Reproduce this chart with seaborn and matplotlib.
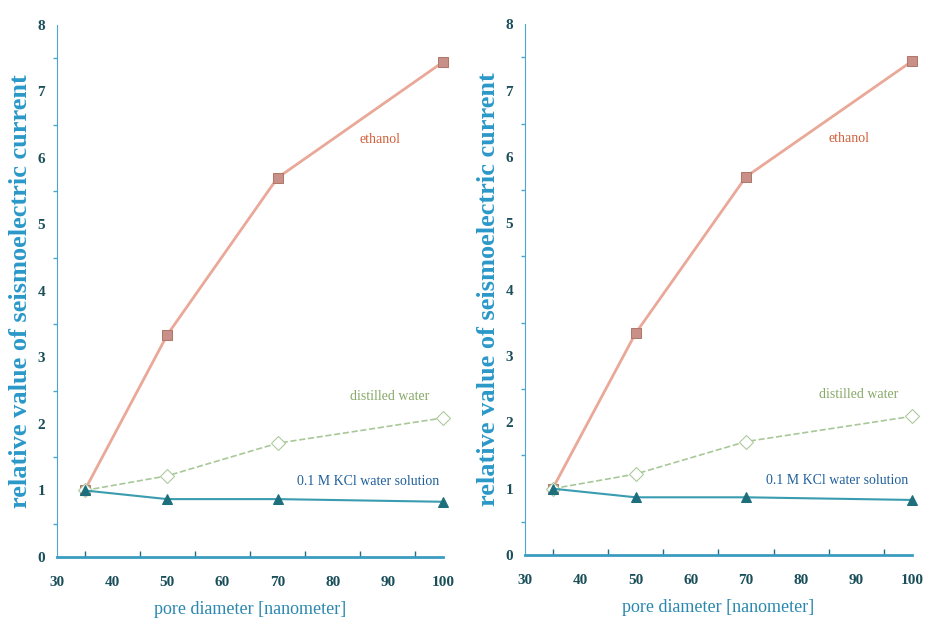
import pandas as pd
import seaborn as sns
import matplotlib.pyplot as plt
from matplotlib.ticker import MultipleLocator

# pore diameters and relative seismoelectric current values
pore = [35, 50, 70, 100]
ethanol = [1.0, 3.34, 5.7, 7.44]
distilled = [1.0, 1.22, 1.71, 2.09]
kcl = [1.0, 0.87, 0.87, 0.83]

sns.set_theme(style='white')
plt.rcParams['font.family'] = ['Liberation Serif', 'DejaVu Serif']

axis_col = '#4aa6cc'
tick_col = '#1f6f80'

fig = plt.figure(figsize=(9.32, 6.29), dpi=100)
ax1 = fig.add_axes([0.0612, 0.1145, 0.414, 0.846])
ax2 = fig.add_axes([0.5633, 0.1176, 0.415, 0.844])

for ax in (ax1, ax2):
    sns.lineplot(x=pore, y=ethanol, ax=ax, color='#eaa898', lw=2.0,
                 marker='s', markersize=7, markerfacecolor='#c89088',
                 markeredgecolor='#b07868', clip_on=False)
    sns.lineplot(x=pore, y=distilled, ax=ax, color='#a8c898', lw=1.2,
                 linestyle='--', marker='D', markersize=7,
                 markerfacecolor='white', markeredgecolor='#a8c898',
                 clip_on=False)
    sns.lineplot(x=pore, y=kcl, ax=ax, color='#3a9cb0', lw=1.5,
                 marker='^', markersize=7, markerfacecolor='#1d6f7c',
                 markeredgecolor='#1d6f7c', clip_on=False)

    ax.set_xlim(30, 100)
    ax.set_ylim(0, 8)
    ax.xaxis.set_major_locator(MultipleLocator(10))
    ax.xaxis.set_minor_locator(MultipleLocator(5))
    ax.yaxis.set_major_locator(MultipleLocator(1))
    ax.yaxis.set_minor_locator(MultipleLocator(0.5))
    ax.tick_params(axis='both', which='major', length=5, width=1.2,
                   color=tick_col, labelsize=11, labelcolor='#1a4f5a',
                   direction='out')
    ax.tick_params(axis='x', which='major', direction='in', length=8,
                   pad=14)
    ax.tick_params(axis='x', which='minor', direction='in', length=4,
                   width=1, color=tick_col, bottom=True)
    ax.tick_params(axis='y', which='minor', direction='out', length=3,
                   width=1, color=axis_col, left=True)
    for lab in ax.get_xticklabels() + ax.get_yticklabels():
        lab.set_fontweight('bold')
    for s in ('top', 'right'):
        ax.spines[s].set_visible(False)
    ax.spines['left'].set_color(axis_col)
    ax.spines['left'].set_linewidth(0.8)
    ax.spines['bottom'].set_color('#3a9cc0')
    ax.spines['bottom'].set_linewidth(2.0)

    ax.set_xlabel('pore diameter [nanometer]', fontsize=13,
                  color='#2a88b0', labelpad=8)
    ax.set_ylabel('relative value of seismoelectric current', fontsize=19,
                  color='#2a98c8', fontweight='bold', labelpad=4)

    ax.text(88.6, 6.27, 'ethanol', fontsize=10, color='#d0603a',
            ha='center', va='center')
    ax.text(90.4, 2.42, 'distilled water', fontsize=10, color='#88a868',
            ha='center', va='center')
    ax.text(86.4, 1.13, '0.1 M KCl water solution', fontsize=10,
            color='#1f5f9a', ha='center', va='center')

fig.savefig('out.png', dpi=100)
